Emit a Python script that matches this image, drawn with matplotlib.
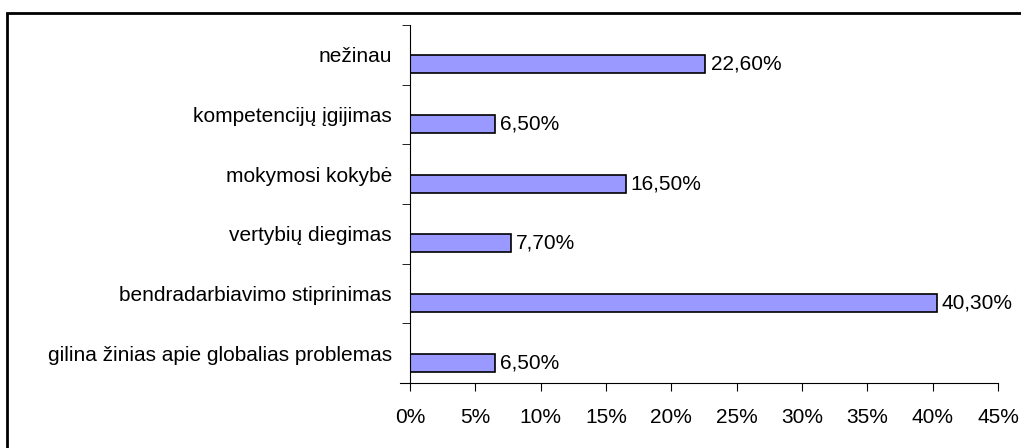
import matplotlib.pyplot as plt
from matplotlib.patches import Rectangle
from matplotlib.ticker import MultipleLocator, FuncFormatter

plt.rcParams['font.family'] = ['Liberation Sans', 'DejaVu Sans']

# data (top to bottom as shown)
kategorijos = ['nežinau', 'kompetencijų įgijimas', 'mokymosi kokybė',
               'vertybių diegimas', 'bendradarbiavimo stiprinimas',
               'gilina žinias apie globalias problemas']
reiksmes = [22.6, 6.5, 16.5, 7.7, 40.3, 6.5]
etiketes = ['22,60%', '6,50%', '16,50%', '7,70%', '40,30%', '6,50%']

W, H = 1021, 448
fs = 15
fig = plt.figure(figsize=(W / 100, H / 100), dpi=100)
ax = fig.add_axes([410 / W, (H - 383) / H, (998 - 410) / W, (383 - 25) / H])

n = len(kategorijos)
y = list(range(n))[::-1]
# bars sit a bit below the category centre (like the Excel original)
yb = [v - 0.16 for v in y]
ax.barh(yb, reiksmes, height=0.3, color='#9999ff', edgecolor='black', linewidth=1.2)
for yi, v, t in zip(yb, reiksmes, etiketes):
    ax.text(v + 0.4, yi, t, va='center', ha='left', fontsize=fs)

ax.set_xlim(0, 45)
ax.set_ylim(-0.5, n - 0.5)
ax.xaxis.set_major_locator(MultipleLocator(5))
ax.xaxis.set_major_formatter(FuncFormatter(lambda v, p: f'{v:.0f}%'))
ax.set_yticks(y)
ax.set_yticklabels(kategorijos, fontsize=fs)
ax.tick_params(axis='y', length=0, pad=13)
ax.set_yticks([i - 0.5 for i in range(n + 1)], minor=True)
ax.tick_params(axis='y', which='minor', length=6, direction='out')
ax.tick_params(axis='x', length=6, direction='out', labelsize=fs, pad=12)
for s in ['top', 'right']:
    ax.spines[s].set_visible(False)
ax.spines['bottom'].set_bounds(-0.8, 45)

# outer frame
fig.patches.append(Rectangle((7 / W, -0.1), 1.2, (H - 13) / H + 0.1,
                             transform=fig.transFigure, fill=False,
                             edgecolor='black', linewidth=2))

fig.savefig('out.png', dpi=100)
